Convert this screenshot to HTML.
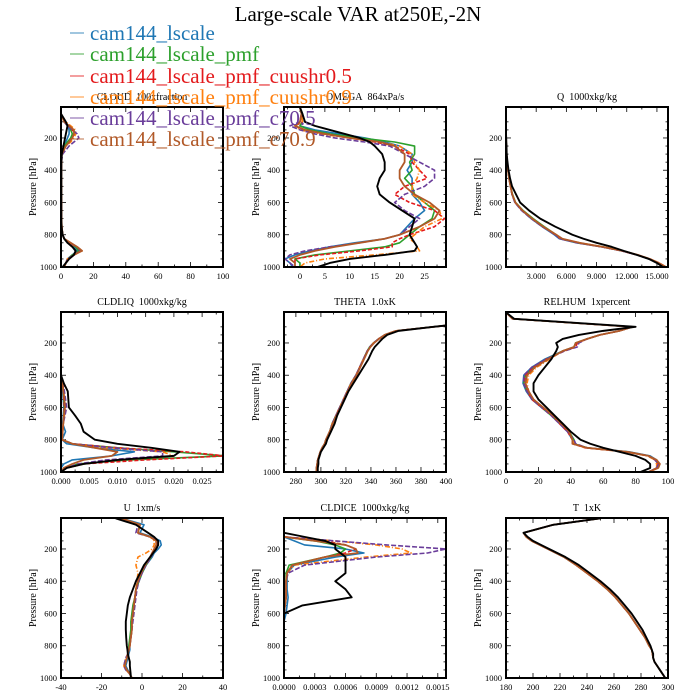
<!DOCTYPE html>
<html><head><meta charset="utf-8"><style>
html,body{margin:0;padding:0;background:#fff;}
svg{display:block;font-family:"Liberation Serif",serif;}
</style></head><body>
<svg id="chart" width="700" height="700" viewBox="0 0 700 700">
<text x="358" y="21" font-size="21" text-anchor="middle">Large-scale VAR at250E,-2N</text>
<g id="panels"></g>
<g id="legend"></g>
</svg>
<script>
const levels=[10,50,100,125,150,175,200,225,250,300,350,400,450,500,550,600,650,700,750,800,825,850,875,900,925,950,975,1000];
const seriesNames=["cam144_lscale","cam144_lscale_pmf","cam144_lscale_pmf_cuushr0.5","cam144_lscale_pmf_cuushr0.9","cam144_lscale_pmf_c70.5","cam144_lscale_pmf_c70.9","obs"];

const cloudBlue=[0,0,2,4,5,5,4,3,2,0.5,0.3,0.2,0.2,0.2,0.2,0.3,0.3,0.3,0.5,1,2,4,8,10,7,4,3,2];
const cloudGreen=[0,0,2,5,6,7,6,4,2,0.5,0.3,0.2,0.2,0.2,0.2,0.3,0.3,0.3,0.5,1,2,5,9,11,7,4,3,2];
const cloudRed=[0,0,2,5,7,8,7,5,3,0.5,0.3,0.2,0.2,0.2,0.2,0.3,0.3,0.3,0.5,1,2,5,10,12,8,4,3,2];
const cloudOrange=[0,0,3,6,9,9,8,6,3,0.5,0.3,0.2,0.2,0.2,0.2,0.3,0.3,0.3,0.5,1,2,4,10,13,8,4,3,2];
const cloudPurple=[0,0,2,4,7,10,11,8,5,1,0.3,0.2,0.2,0.2,0.2,0.3,0.3,0.3,0.5,1,2,5,10,12,8,4,3,2];
const cloudBrown=[0,0,2,5,8,8,7,5,3,0.5,0.3,0.2,0.2,0.2,0.2,0.3,0.3,0.3,0.5,1,2,6,10,13,8,5,3,2];
const cloudObs=[0,0,3,4,3.5,3,2.5,2,1.5,0.5,0.2,0.2,0.2,0.2,0.2,0.2,0.2,0.2,0.3,1,2,4,7,9,8,5,3,1];

const omegaBlue=[0,0.3,0.5,0,3,8,13,17,20,22.5,22.5,21.5,22.5,22.5,22.5,24,25,23,21.5,20,17,11,6,2,-1,-3,-2,-1.5];
const omegaGreen=[0,0.3,0.5,0,2,6,12,19,23,23,22,22.5,21,22.5,23,25,27,26.5,24,22,21,20,17,10,3,-1,0,0];
const omegaRed=[0,0.3,0.5,-1,1,5,10,15,19,22,22.5,24,25.5,21,19,22,27,29,27,22,20,18.5,18.5,12,4,-1,-1,-1];
const omegaOrange=[0,0.3,0.5,-1,0,4,10,16,20,22.5,23,24,23.5,22.5,22.5,25,28,28.5,25,23,22,23,23.5,24,15,5,1,0];
const omegaPurple=[0,0.3,0,-2,0,3,7,13,18,21,24,27,27,25,21,19,21,24,22,20,17,12,6,1,-2,-3,-2,-1];
const omegaBrown=[0,0.3,0,-1,1,5,10,16,19,21,21,20,20,21,23,26,28,27,24,20,17,12,7,3,0,-2,-1,-1];
const omegaObs=[0,0.5,1,3,6,9,12,14,15,16.5,17,17,16,15.5,16,18,20.5,23,22.5,22,22.5,23,23.5,23,17,10,6,3.5];

const qBlue=[0,0,0,0,0,0,0.01,0.02,0.03,0.06,0.12,0.2,0.3,0.45,0.6,0.9,1.6,2.5,3.6,4.8,5.3,7,9.5,11.5,13,14.2,15.1,15.8];
const qGreen=[0,0,0,0,0,0,0.01,0.02,0.03,0.06,0.12,0.2,0.3,0.45,0.65,0.95,1.7,2.7,3.8,5.0,5.5,7.2,9.6,11.6,13,14.2,15.1,15.8];
const qRed=[0,0,0,0,0,0,0.01,0.02,0.03,0.06,0.12,0.2,0.3,0.45,0.6,0.9,1.6,2.6,3.7,4.9,5.4,7.1,9.5,11.5,13,14.3,15.2,15.9];
const qOrange=[0,0,0,0,0,0,0.01,0.02,0.03,0.06,0.12,0.2,0.3,0.45,0.62,0.92,1.65,2.6,3.7,5.0,5.5,7.3,9.7,11.6,13.1,14.3,15.2,15.9];
const qPurple=[0,0,0,0,0,0,0.01,0.02,0.03,0.06,0.12,0.2,0.3,0.45,0.6,0.88,1.55,2.5,3.6,4.9,5.4,7.1,9.5,11.5,13,14.2,15.1,15.8];
const qBrown=[0,0,0,0,0,0,0.01,0.02,0.03,0.06,0.12,0.2,0.3,0.45,0.62,0.93,1.65,2.6,3.7,5.0,5.6,7.3,9.6,11.6,13.1,14.3,15.2,15.9];
const qObs=[0,0,0,0,0,0,0.02,0.03,0.05,0.07,0.15,0.25,0.4,0.6,1.0,1.4,2.3,3.4,4.9,6.6,7.7,9,10.5,11.7,13,14.2,15,15.6];

const liqBlue=[0,0,0,0,0,0,0,0,0,0,0,0,0.0003,0.0003,0.0004,0.0005,0.0004,0.0003,0.0008,0.0002,0.001,0.006,0.013,0.009,0.002,0.0005,0,0];
const liqGreen=[0,0,0,0,0,0,0,0,0,0,0,0,0.0003,0.0004,0.0005,0.0006,0.0005,0.0004,0.0003,0.0002,0.002,0.01,0.02,0.029,0.012,0.003,0.001,0];
const liqRed=[0,0,0,0,0,0,0,0,0,0,0,0,0.0003,0.0004,0.0005,0.0006,0.0005,0.0004,0.0003,0.0002,0.002,0.01,0.022,0.029,0.015,0.004,0.001,0];
const liqOrange=[0,0,0,0,0,0,0,0,0,0,0,0,0.0003,0.0005,0.0006,0.0008,0.0006,0.0004,0.0003,0.0002,0.002,0.008,0.018,0.02,0.01,0.004,0.001,0];
const liqPurple=[0,0,0,0,0,0,0,0,0,0,0,0,0.0004,0.0006,0.0008,0.001,0.0007,0.0004,0.0003,0.0002,0.002,0.009,0.018,0.018,0.008,0.003,0.001,0];
const liqBrown=[0,0,0,0,0,0,0,0,0,0,0,0,0.0003,0.0004,0.0006,0.0007,0.0005,0.0004,0.0003,0.0002,0.002,0.006,0.01,0.009,0.004,0.002,0.0005,0];
const liqObs=[0,0,0,0,0,0,0,0,0,0,0,0,0.0005,0.0012,0.0013,0.0014,0.0025,0.0035,0.004,0.006,0.01,0.016,0.021,0.02,0.01,0.004,0.001,0];

const thBlue=[500,450,390,360,351,346,342,339,337,334,331,328,324,321,318,315,312,309,307,304,303,301,299.5,298.5,297.5,297,296.5,296.5];
const thGreen=[500,450,390,360,351,346,342,339,337,334,331,328,324,321,318,315,312,309,307,304,303,301,299.5,298.5,297.5,297,296.5,296.5];
const thRed=[500,450,390,360,351,346,342.5,339.5,337,334,331,328,324.5,321,318,315,312,309.5,307,304,303,301,299.5,298.5,297.5,297,296.5,296.5];
const thOrange=[500,450,390,360,351,346,342,339,337,334,331,328,324,321,318,315,312,309,307,304,303,301,299.5,298.5,297.5,297,296.5,296.5];
const thPurple=[500,450,390,360,351,346,342,339,337,334,331,328,324,321,318,315,312,309,307,304,303,301,299.5,298.5,297.5,297,296.5,296.5];
const thBrown=[500,450,390,360,351,346.5,342.5,339.5,337.5,334.5,331.5,328.5,324.5,321.5,318.5,315.5,312.5,309.5,307,304,303,301,299.5,298.5,297.5,297,296.5,296.5];
const thObs=[500,450,390,362,353,349,346,343,341,338,334,330,326,322,319,316,313,311,308,305,304,302,300,299,298,298,297.5,297.5];

const rhBlue=[0,4,78,70,58,50,43,42,35,24,16,11,10.5,12.5,16,22,28,33,38,41,42,50,76,89,93,94,93,88];
const rhGreen=[0,4,78,70,58,50,43,42,35,25,17,12,11,13,16,22,28,34,39,42,42,50,75,88,92,94,93,88];
const rhRed=[0,4,78,70,58,50,44,43,36,25,17,12,11,13,16,22,28,33,38,41,41,49,74,88,92,94,93,88];
const rhOrange=[0,4,78,70,58,50,43,42,35,27,19,14,13,14,17,23,29,34,39,41,42,49,74,87,92,93,93,88];
const rhPurple=[0,4,78,70,58,50,45,44,36,25,16,11,11,13,16,22,28,33,38,42,43,50,75,88,92,94,93,88];
const rhBrown=[0,4,78,70,58,50,43,42,35,26,18,13,12,14,17,23,29,34,39,41,41,50,75,88,93,95,94,88];
const rhObs=[0,5,80,60,45,35,31,32,31,28,24,20,17,17,20,25,30,35,40,46,52,60,70,80,86,89,89,83];

const uBlue=[-10,1,-1,5,9,9.5,8,6,5,2,0,-1.5,-3,-3.5,-4,-4.5,-5,-5,-5.5,-6,-6,-6.5,-7,-7.5,-8,-7,-6,-5];
const uGreen=[-10,-1,-2,4,8,8,7,5.5,4.5,2,0,-1.5,-3,-3.5,-4.5,-5,-5.5,-5.5,-6,-6.5,-6.5,-7,-7.5,-8,-8.5,-7.5,-6,-5];
const uRed=[-10,-1,-2,4,7,7.5,6,5,4,1.5,-0.5,-2,-3,-3.5,-4,-4.5,-5,-5,-5.5,-6,-6.5,-7,-7.5,-8,-8.5,-7.5,-6,-5];
const uOrange=[-11,-1,-2,4,6,6,5,2,-2,-3,-2,-2.5,-3,-3.5,-4,-4.5,-5,-5,-5.5,-6,-6.5,-7,-8,-8.5,-9,-8,-6,-5];
const uPurple=[-10,-2,-3,4,8,8,7,5.5,4.5,2,0,-1.5,-2.5,-3,-3.5,-4,-4.5,-5,-5.5,-6,-6.5,-7,-8,-8.5,-9,-8,-6,-5];
const uBrown=[-10,-1,-2,4,7,7,6,5,4,1.5,-0.5,-2,-3,-3.5,-4,-4.5,-5,-5,-5.5,-6,-6.5,-7,-7.5,-8,-8.5,-7.5,-6,-5];
const uObs=[-13,-3,3,6,8,8,7,5.5,4,1,-1,-3,-4.5,-6,-7,-7.5,-8,-8,-7.8,-7.5,-7.2,-7,-6.5,-6,-6,-5.8,-5.6,-5.5];

const iceBlue=[0,0,0,0,0.0001,0.0002,0.0006,0.00078,0.0005,0.0001,0.00003,0.00003,0.00003,0.00004,0.00003,0.00002,0,0,0,0,0,0,0,0,0,0,0,0];
const iceGreen=[0,0,0,0,0.0003,0.0005,0.0006,0.00055,0.0004,0.00005,0.00002,0.00002,0.00002,0.00002,0.00001,0,0,0,0,0,0,0,0,0,0,0,0,0];
const iceRed=[0,0,0,0,0.0004,0.0006,0.0007,0.0006,0.0004,0.00008,0.00003,0.00002,0.00002,0.00002,0.00001,0,0,0,0,0,0,0,0,0,0,0,0,0];
const iceOrange=[0,0,0,0,0.0005,0.0009,0.00115,0.00124,0.0008,0.0001,0.00003,0.00002,0.00002,0.00002,0.00001,0,0,0,0,0,0,0,0,0,0,0,0,0];
const icePurple=[0,0,0,0,0.0005,0.001,0.00158,0.0014,0.0009,0.0002,0.00004,0.00002,0.00002,0.00002,0.00001,0,0,0,0,0,0,0,0,0,0,0,0,0];
const iceBrown=[0,0,0,0,0.0003,0.0006,0.0007,0.00072,0.0004,0.00008,0.00003,0.00002,0.00002,0.00002,0.00001,0,0,0,0,0,0,0,0,0,0,0,0,0];
const iceObs=[0,0,0,0.0002,0.0004,0.0005,0.0005,0.00055,0.0006,0.0006,0.0006,0.0005,0.0006,0.00066,0.00018,0,0,0,0,0,0,0,0,0,0,0,0,0];

const tBlue=[250,215,193,195,199,205,211,217,223,232,240,248,255,261,266,271,275,279,283,286,288,288.5,289,290,292,294,296,298];
const tGreen=[250,215,193,195,199,205,211,217,223,232,240,248,255,261,266,271,275,279,283,286,288,288.5,289,290,292,294,296,298];
const tRed=[250,215,193,195,199,205,211,217,223,232,240,248,255,261,266,271,275,279,283,286,288,288.5,289,290,292,294,296,298];
const tOrange=[250,215,193,195,199,205,211,217,223,232,240,248,255,261,266,271,275,279,283,286,288,288.5,289,290,292,294,296,298];
const tPurple=[250,215,193,195,199,205,211,217,223,232,240,248,255,261,266,271,275,279,283,286,288,288.5,289,290,292,294,296,298];
const tBrown=[250,215,193,195,199,205,211,217,223,232,240,248,255,261,266,271,275,279,283,286,288,288.5,289,290,292,294,296,298];
const tObs=[250,215,193,196,200,206,212,218,224,234,242,250,257,263,268,273,277,281,284,287,288,289,289,290,292,294,296,298];

const cloudTicks=["0","20","40","60","80","100"];
const omegaTicks=["0","5","10","15","20","25"];
const qTicks=["3.000","6.000","9.000","12.000","15.000"];
const liqTicks=["0.000","0.005","0.010","0.015","0.020","0.025"];
const thTicks=["280","300","320","340","360","380","400"];
const rhTicks=["0","20","40","60","80","100"];
const uTicks=["-40","-20","0","20","40"];
const iceTicks=["0.0000","0.0003","0.0006","0.0009","0.0012","0.0015"];
const tTicks=["180","200","220","240","260","280","300"];
const pTicks=[200,400,600,800,1000];

const colors=["#1f77b4","#2ca02c","#e31a1c","#ff7f0e","#6a3d9a","#b15928","#000000"];
const dashes=[null,null,"4,2","5,2,1,2","5,2",null,null];
const widths=[1.6,1.6,1.6,1.6,1.6,1.8,1.9];
const NS="http://www.w3.org/2000/svg";
const root=document.getElementById("panels");
function mk(tag,attrs,parent){const e=document.createElementNS(NS,tag);for(const k in attrs)e.setAttribute(k,attrs[k]);parent.appendChild(e);return e;}

const panels=[
 {name:"cloud",title:"CLOUD\u00a0\u00a0100xfraction",x0:61,y0:107,xmin:0,xmax:100,ticks:cloudTicks,data:[cloudBlue,cloudGreen,cloudRed,cloudOrange,cloudPurple,cloudBrown,cloudObs]},
 {name:"omega",title:"OMEGA\u00a0\u00a0864xPa/s",x0:284,y0:107,xmin:-3.2,xmax:29.3,ticks:omegaTicks,data:[omegaBlue,omegaGreen,omegaRed,omegaOrange,omegaPurple,omegaBrown,omegaObs]},
 {name:"q",title:"Q\u00a0\u00a01000xkg/kg",x0:506,y0:107,xmin:0,xmax:16.1,ticks:qTicks,data:[qBlue,qGreen,qRed,qOrange,qPurple,qBrown,qObs]},
 {name:"cldliq",title:"CLDLIQ\u00a0\u00a01000xkg/kg",x0:61,y0:312,xmin:0,xmax:0.0287,ticks:liqTicks,data:[liqBlue,liqGreen,liqRed,liqOrange,liqPurple,liqBrown,liqObs]},
 {name:"theta",title:"THETA\u00a0\u00a01.0xK",x0:284,y0:312,xmin:270.5,xmax:400,ticks:thTicks,data:[thBlue,thGreen,thRed,thOrange,thPurple,thBrown,thObs]},
 {name:"relhum",title:"RELHUM\u00a0\u00a01xpercent",x0:506,y0:312,xmin:0,xmax:100,ticks:rhTicks,data:[rhBlue,rhGreen,rhRed,rhOrange,rhPurple,rhBrown,rhObs]},
 {name:"u",title:"U\u00a0\u00a01xm/s",x0:61,y0:518,xmin:-40,xmax:40,ticks:uTicks,data:[uBlue,uGreen,uRed,uOrange,uPurple,uBrown,uObs]},
 {name:"cldice",title:"CLDICE\u00a0\u00a01000xkg/kg",x0:284,y0:518,xmin:0,xmax:0.00158,ticks:iceTicks,data:[iceBlue,iceGreen,iceRed,iceOrange,icePurple,iceBrown,iceObs]},
 {name:"t",title:"T\u00a0\u00a01xK",x0:506,y0:518,xmin:180,xmax:300,ticks:tTicks,data:[tBlue,tGreen,tRed,tOrange,tPurple,tBrown,tObs]}
];
const W=162,H=160,PMIN=8,PMAX=1000;

panels.forEach((pn,pi)=>{
  const g=mk("g",{},root);
  
  
  const sx=v=>pn.x0+(v-pn.xmin)/(pn.xmax-pn.xmin)*W;
  const sy=p=>pn.y0+(p-PMIN)/(PMAX-PMIN)*H;
  const cid="clip"+pi;
  const cp=mk("clipPath",{id:cid},g);
  mk("rect",{x:pn.x0,y:pn.y0,width:W,height:H},cp);
  const tt=mk("text",{x:pn.x0+W/2,y:pn.y0-7,"font-size":10,"text-anchor":"middle"},g);
  tt.textContent=pn.title;
  
  
  const yl=mk("text",{x:0,y:0,"font-size":10,"text-anchor":"middle",transform:`translate(${pn.x0-25},${pn.y0+H/2}) rotate(-90)`},g);
  yl.textContent="Pressure [hPa]";
  
  
  for(let p=100;p<=1000;p+=50){
    const y=sy(p);const major=p%200===0;const L=major?5:2.5;
    mk("line",{x1:pn.x0,x2:pn.x0+L,y1:y,y2:y,stroke:"#000","stroke-width":0.8},g);
    mk("line",{x1:pn.x0+W,x2:pn.x0+W-L,y1:y,y2:y,stroke:"#000","stroke-width":0.8},g);
  }
  pTicks.forEach(p=>{
    const t=mk("text",{x:pn.x0-4,y:sy(p)+3,"font-size":8.5,"text-anchor":"end"},g);
    t.textContent=p;
    
    
  });
  const tv=pn.ticks.map(Number);
  const step=tv[1]-tv[0];
  for(let k=-4;k<=(tv.length+4)*2;k++){
    const v=tv[0]+k*step/2;
    if(v<pn.xmin-1e-12||v>pn.xmax+1e-12)continue;
    const x=sx(v);const major=k%2===0;const L=major?5:2.5;
    mk("line",{x1:x,x2:x,y1:pn.y0+H,y2:pn.y0+H-L,stroke:"#000","stroke-width":0.8},g);
    mk("line",{x1:x,x2:x,y1:pn.y0,y2:pn.y0+L,stroke:"#000","stroke-width":0.8},g);
  }
  pn.ticks.forEach(s=>{
    const t=mk("text",{x:sx(Number(s)),y:pn.y0+H+12,"font-size":8.5,"text-anchor":"middle"},g);
    t.textContent=s;
    
    
  });
  const lg=mk("g",{"clip-path":`url(#${cid})`},g);
  pn.data.forEach((arr,si)=>{
    const d=arr.map((v,i)=>(i?"L":"M")+sx(v).toFixed(2)+","+sy(levels[i]).toFixed(2)).join("");
    const a={d:d,fill:"none",stroke:colors[si],"stroke-width":widths[si],"stroke-linejoin":"round"};
    if(dashes[si])a["stroke-dasharray"]=dashes[si];
    const path=mk("path",a,lg);
    
    
  });
  const fr=mk("rect",{x:pn.x0,y:pn.y0,width:W,height:H,fill:"none",stroke:"#000","stroke-width":2}, g);
  
  
});

const leg=document.getElementById("legend");
const legendY=[33,54,76,97,118,139];
for(let i=0;i<6;i++){
  const e=mk("g",{},leg);
  
  
  mk("line",{x1:70,x2:84,y1:legendY[i],y2:legendY[i],stroke:colors[i],"stroke-width":1.2,opacity:0.7},e);
  const t=mk("text",{x:90,y:legendY[i]+7,"font-size":21,fill:colors[i]},e);
  t.textContent=seriesNames[i];
}
</script>
</body></html>
